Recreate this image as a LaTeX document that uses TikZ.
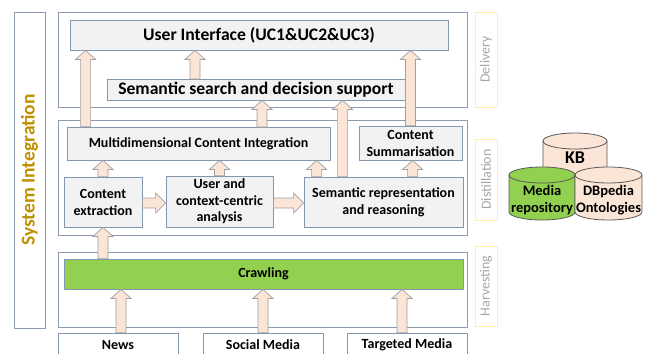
\documentclass[tikz,border=0pt]{standalone}
\usepackage{fontspec}
\setmainfont{Carlito}
\usetikzlibrary{calc}

\definecolor{boxfill}{HTML}{F2F2F2}
\definecolor{boxline}{HTML}{8497B0}
\definecolor{panelline}{HTML}{8C9BAE}
\definecolor{tagline}{HTML}{FFF0A8}
\definecolor{taggray}{HTML}{A6A6A6}
\definecolor{arrfill}{HTML}{FBE5D6}
\definecolor{arrline}{HTML}{A0A0A0}
\definecolor{crawlgreen}{HTML}{92D050}
\definecolor{sysorange}{HTML}{BF9000}
\definecolor{dbline}{HTML}{595959}

% block arrow pointing up, x taken from the first point
\newcommand{\blkup}[2]{%
  \draw[blkarrow] let \p1=#1, \p2=#2 in
    (\x1-5pt,\y1) -- (\x1-5pt,\y2-9pt) -- (\x1-10pt,\y2-9pt) -- (\x1,\y2)
    -- (\x1+10pt,\y2-9pt) -- (\x1+5pt,\y2-9pt) -- (\x1+5pt,\y1) -- cycle;}
% block arrow pointing right, y taken from the first point
\newcommand{\blkright}[2]{%
  \draw[blkarrow] let \p1=#1, \p2=#2 in
    (\x1,\y1-5pt) -- (\x2-10pt,\y1-5pt) -- (\x2-10pt,\y1-10pt) -- (\x2,\y1)
    -- (\x2-10pt,\y1+10pt) -- (\x2-10pt,\y1+5pt) -- (\x1,\y1+5pt) -- cycle;}
% database cylinder: centre x, top y, bottom y, x radius, fill
\newcommand{\dbcyl}[5]{%
  \draw[draw=dbline, line width=0.8pt, fill=#5] (#1-#4,#2) -- (#1-#4,#3)
    arc[start angle=180, end angle=360, x radius=#4pt, y radius=8pt]
    -- (#1+#4,#2) arc[start angle=0, end angle=180, x radius=#4pt, y radius=8pt] -- cycle;
  \draw[draw=dbline, line width=0.8pt] (#1-#4,#2)
    arc[start angle=180, end angle=360, x radius=#4pt, y radius=8pt];}

\begin{document}
\begin{tikzpicture}[x=1pt,y=-1pt,
    panel/.style={draw=panelline, line width=0.8pt, inner sep=0pt},
    tag/.style={draw=tagline, line width=0.9pt, inner sep=0pt, rotate=90,
      minimum height=22pt, text=taggray, font=\fontsize{14}{16}\selectfont},
    box/.style={draw=boxline, fill=boxfill, line width=0.8pt, inner sep=0pt,
      align=center, font=\fontsize{14}{17}\selectfont\bfseries},
    bigbox/.style={box, font=\fontsize{17.6}{20}\selectfont\bfseries},
    srcbox/.style={draw=boxline, fill=white, line width=0.8pt, inner sep=0pt,
      minimum width=120pt, minimum height=24pt, font=\fontsize{14}{17}\selectfont\bfseries},
    blkarrow/.style={draw=arrline, fill=arrfill, line width=0.7pt},
    dbtext/.style={align=center, inner sep=0pt, font=\fontsize{14.5}{17}\selectfont\bfseries}]
  \useasboundingbox (0,0) rectangle (647,353);
  \clip (0,0) rectangle (647,353);

  % System integration
  \node[panel, rotate=90, minimum width=316pt, minimum height=31pt,
    text=sysorange, font=\fontsize{19.5}{22}\selectfont\bfseries] (sysint) at (29.5,170) {System Integration};

  % Layers
  \node[panel, minimum width=409pt, minimum height=95pt] (delivery) at (262.5,59.5) {};
  \node[panel, minimum width=409pt, minimum height=115pt] (distill) at (262.5,177.5) {};
  \node[panel, minimum width=409pt, minimum height=75pt] (harvest) at (262.5,289.5) {};

  \node[tag, minimum width=95pt] (tdelivery) at (486,59.5) {Delivery};
  \node[tag, minimum width=81pt] (tdistill) at (486,179.5) {Distillation};
  \node[tag, minimum width=80pt] (tharvest) at (486,286) {Harvesting};

  % Delivery
  \node[bigbox, minimum width=378pt, minimum height=30pt] (ui) at (259,35) {User Interface (UC1\&UC2\&UC3)};
  \node[bigbox, minimum width=298pt, minimum height=21pt] (sss) at (256,89.5) {Semantic search and decision support};

  % Distillation
  \node[box, minimum width=263pt, minimum height=33pt] (mci) at (198.5,143.5) {Multidimensional Content Integration};
  \node[box, minimum width=103pt, minimum height=34pt] (cs) at (410.5,143) {Content\\Summarisation};
  \node[box, minimum width=78pt, minimum height=50pt] (ce) at (103,202) {Content\\extraction};
  \node[box, minimum width=107pt, minimum height=51pt, font=\fontsize{14}{16.5}\selectfont\bfseries] (uca) at (219.5,201.5) {User and\\context-centric\\analysis};
  \node[box, minimum width=159pt, minimum height=50pt] (srr) at (383.5,202) {Semantic representation\\and reasoning};

  % Harvesting
  \node[box, fill=crawlgreen, minimum width=399pt, minimum height=30pt] (crawl) at (263.5,274) {Crawling};

  % Sources
  \node[srcbox] (news) at (118,345) {News};
  \node[srcbox] (social) at (263,345) {Social Media};
  \node[srcbox] (targeted) at (407,345) {Targeted Media};

  % Arrows
  \blkup{($(mci.north west)+(19,0)$)}{(ui.south)}
  \blkup{(195,79)}{(ui.south)}
  \blkup{(262,127)}{(sss.south)}
  \blkup{($(srr.north west)+(39,0)$)}{(sss.south)}
  \blkup{(cs.north)}{(ui.south)}
  \blkup{(ce.north)}{(mci.south)}
  \blkup{(uca.north)}{(mci.south)}
  \blkup{($(srr.north west)+(13,0)$)}{(mci.south)}
  \blkup{($(srr.north west)+(109,0)$)}{(cs.south)}
  \blkright{($(ce.east)+(0,1)$)}{(uca.west)}
  \blkright{($(uca.east)+(0,1.5)$)}{(srr.west)}
  \blkup{(crawl.north -| ce.south)}{(ce.south)}
  \blkup{($(news.north)+(3,0)$)}{(crawl.south)}
  \blkup{(social.north)}{(crawl.south)}
  \blkup{($(targeted.north)+(-5,0)$)}{(crawl.south)}

  % Knowledge stores
  \dbcyl{575}{141}{200}{32}{arrfill}
  \node[dbtext, font=\fontsize{18}{20}\selectfont\bfseries] (kb) at (575,158) {KB};
  \dbcyl{542}{175}{212}{33}{crawlgreen}
  \node[dbtext] (media) at (542,200) {Media\\repository};
  \dbcyl{608.5}{175}{212}{33.5}{arrfill}
  \node[dbtext] (dbpedia) at (608.5,200) {DBpedia\\Ontologies};
\end{tikzpicture}
\end{document}
